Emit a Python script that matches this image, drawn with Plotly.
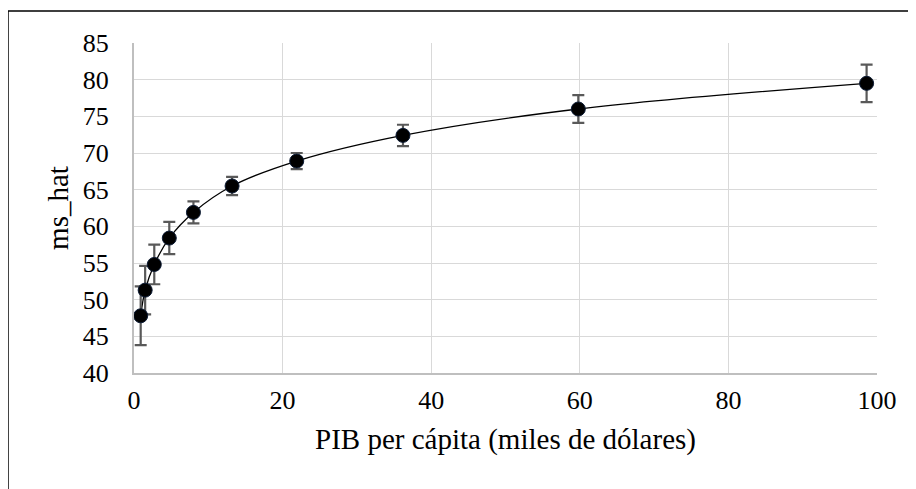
import plotly.graph_objects as go

pib = [0.9, 1.5, 2.73, 4.75, 8.0, 13.2, 21.9, 36.2, 59.8, 98.6]
ms_hat = [47.8, 51.3, 54.8, 58.4, 61.9, 65.5, 68.9, 72.4, 76.0, 79.5]
err = [4.0, 3.3, 2.7, 2.2, 1.5, 1.25, 1.1, 1.45, 1.9, 2.55]

x_ticks = [0, 20, 40, 60, 80, 100]
y_ticks = [40, 45, 50, 55, 60, 65, 70, 75, 80, 85]

FONT = "Liberation Serif, Times New Roman, serif"

fig = go.Figure()
fig.add_trace(go.Scatter(
    x=pib, y=ms_hat,
    mode="lines",
    line=dict(color="black", width=1.3, shape="spline", smoothing=1.0),
    hoverinfo="skip",
    showlegend=False,
))
fig.add_trace(go.Scatter(
    x=pib, y=ms_hat,
    mode="markers",
    marker=dict(color="black", size=14, line=dict(color="#0b1a33", width=1)),
    error_y=dict(type="data", array=err, visible=True, color="#595959",
                 thickness=2.2, width=6),
    showlegend=False,
))

fig.update_layout(
    width=908, height=481,
    margin=dict(l=126, r=39, t=35, b=116),
    paper_bgcolor="white", plot_bgcolor="white",
    font=dict(family=FONT, size=26, color="black"),
    shapes=[dict(type="rect", xref="paper", yref="paper",
                 x0=-0.1696, x1=1.3, y0=-0.6, y1=1.097,
                 line=dict(color="black", width=1.5), layer="above")],
)
fig.update_xaxes(
    range=[0, 100], tickvals=x_ticks, ticktext=[str(v) for v in x_ticks],
    showgrid=True, gridcolor="#d9d9d9", gridwidth=1.3,
    showline=True, linecolor="#bfbfbf", linewidth=2.2,
    ticks="outside", ticklen=3, tickcolor="rgba(0,0,0,0)",
    tickfont=dict(size=26),
    zeroline=False,
    title=dict(text="PIB per cápita (miles de dólares)", font=dict(size=29), standoff=14),
)
fig.update_yaxes(
    range=[40, 85], tickvals=y_ticks, ticktext=[str(v) for v in y_ticks],
    showgrid=True, gridcolor="#d9d9d9", gridwidth=1.3,
    showline=True, linecolor="#bfbfbf", linewidth=2.2,
    ticks="outside", ticklen=18, tickcolor="rgba(0,0,0,0)",
    tickfont=dict(size=26),
    zeroline=False,
    title=dict(text="ms_hat", font=dict(size=29), standoff=6),
)

fig.write_html("out.html")
